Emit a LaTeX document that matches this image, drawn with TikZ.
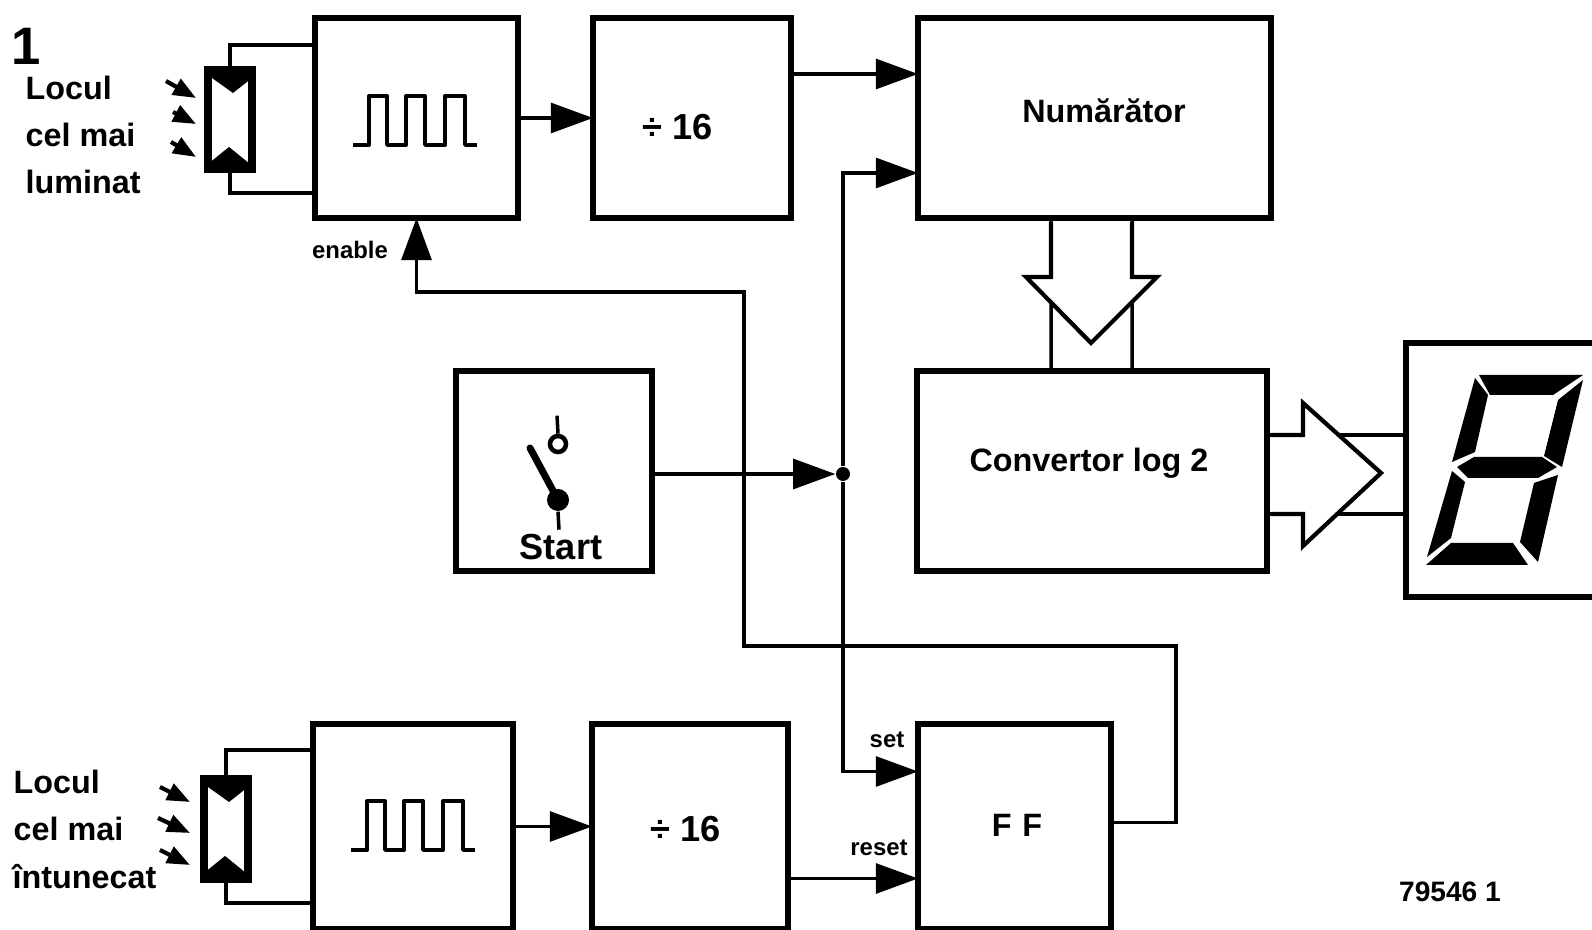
\documentclass[tikz,border=0pt]{standalone}
\usepackage{fontspec}
\setmainfont{Liberation Sans}
\usetikzlibrary{arrows.meta, positioning}
\tikzset{
    block/.style={rectangle, draw, line width=1.7pt, outer sep=0pt, inner sep=0pt},
    wire/.style={draw, line width=1pt},
    sig/.style={wire, -{Triangle[length=12pt, width=8.5pt]}},
    lamp/.style={rectangle, draw, line width=2pt, fill=white, outer sep=0pt, minimum width=4.4mm, minimum height=10mm},
    bus/.style={draw, line width=1.2pt, fill=white, line join=miter},
    ray/.style={line width=1.2pt, -{Triangle[length=6.5pt, width=5pt]}},
    seg/.style={fill=black},
    txt/.style={font=\fontsize{9.2}{12}\selectfont\bfseries, inner sep=0pt},
    bigtxt/.style={font=\fontsize{10.3}{12}\selectfont\bfseries, inner sep=0pt},
    tiny/.style={font=\fontsize{6.8}{8}\selectfont\bfseries, inner sep=0pt},
    pulsetrain/.pic={
        \draw[line width=1.1pt, line join=round] (-62,25) -- (-46,25) -- (-46,-24) -- (-28,-24) -- (-28,25) -- (-9,25)
            -- (-9,-24) -- (10,-24) -- (10,25) -- (30,25) -- (30,-24) -- (50,-24) -- (50,25) -- (62,25);
    },
    lampfill/.pic={
        \fill (-18,-48) -- (22,-48) -- (22,-42) -- (3,-27) -- (-18,-42) -- cycle;
        \fill (-22,48) -- (-22,44) -- (-1,27) -- (20,44) -- (20,48) -- cycle;
    }
}
\begin{document}
\begin{tikzpicture}[x=0.1mm, y=-0.1mm]
    \clip (0,0) rectangle (1592,930);
    % Top row
    \node (osc1) [block, minimum width=20.3mm, minimum height=20mm] at (416.5,118) {};
    \node (div1) [block, minimum width=19.8mm, minimum height=20mm, right=7.5mm of osc1] {};
    \node (num) [block, minimum width=35.3mm, minimum height=20mm, right=12.7mm of div1] {};
    \node (cell1) [lamp] at (230,120) {};
    \pic at (cell1) {lampfill};
    \pic at (415,120) {pulsetrain};

    % Middle row
    \node (conv) [block, minimum width=35mm, minimum height=20mm] at (1092,471) {};
    \node (start) [block, minimum width=19.6mm, minimum height=20mm, left=26.5mm of conv] {};
    \node (disp) [block, anchor=north west, minimum width=22mm, minimum height=25.4mm] at (1406,343) {};
    \node (jct) [circle, fill=black, inner sep=0pt, minimum size=1.4mm] at (843,474) {};

    % Bottom row
    \node (osc2) [block, minimum width=20mm, minimum height=20.5mm] at (413,826.5) {};
    \node (div2) [block, minimum width=19.6mm, minimum height=20.5mm, right=7.9mm of osc2] {};
    \node (ff) [block, minimum width=19.3mm, minimum height=20.5mm, right=13mm of div2] {};
    \node (cell2) [lamp] at (226,829) {};
    \pic at (cell2) {lampfill};
    \pic at (413,825) {pulsetrain};

    % Sensor wires
    \draw[wire] (cell1.north) |- ([yshift=-2.7mm]osc1.north west);
    \draw[wire] (cell1.south) |- ([yshift=2.5mm]osc1.south west);
    \draw[wire] (cell2.north) |- ([yshift=-2.6mm]osc2.north west);
    \draw[wire] (cell2.south) |- ([yshift=2.6mm]osc2.south west);

    % Light rays
    \foreach \ax/\ay/\bx/\by in {166/81/196/98, 173/112/196/124, 171/142/196/157, 160/787/190/802, 158/818/190/833, 160/850/190/865}
        \draw[ray] (\ax,\ay) -- (\bx,\by);

    % Signal paths
    \coordinate (turnr) at (1176,646);
    \coordinate (turnl) at (744,292);
    \draw[sig] (osc1.east) -- (div1.west);
    \draw[sig] ([yshift=4.4mm]div1.east) -- ([yshift=4.4mm]num.west);
    \draw[sig] (jct) |- ([yshift=-5.5mm]num.west);
    \draw[sig] (start.east |- jct) -- (jct);
    \draw[sig] (jct) |- ([yshift=5.5mm]ff.west);
    \draw[sig] (osc2.east) -- (div2.west);
    \draw[sig] ([yshift=-5.2mm]div2.east) -- ([yshift=-5.2mm]ff.west);
    \draw[sig] ([yshift=0.4mm]ff.east) -| (turnr) -| (turnl) -| (osc1.south);

    % Bus arrows
    \draw[wire] ([xshift=-4.35mm]num.south) -- ([xshift=-4.1mm]conv.north);
    \draw[wire] ([xshift=3.75mm]num.south) -- ([xshift=4mm]conv.north);
    \draw[bus] (1051,222) -- (1051,277) -- (1026,277) -- (1091,343) -- (1157,277) -- (1132,277) -- (1132,222);
    \draw[wire] ([yshift=3.6mm]conv.east) -- ([yshift=3.6mm]conv.east -| disp.west);
    \draw[wire] ([yshift=-4.3mm]conv.east) -- ([yshift=-4.3mm]conv.east -| disp.west);
    \draw[bus] (1271,435) -- (1303,435) -- (1303,403) -- (1381,473) -- (1303,546) -- (1303,514) -- (1271,514);

    % Seven segments
    \fill[seg] (1479,375) -- (1583,375) -- (1553,395) -- (1490,395) -- cycle;
    \fill[seg] (1583,380) -- (1562,467) -- (1544,456) -- (1558,400) -- cycle;
    \fill[seg] (1475,378) -- (1488,395) -- (1475,452) -- (1452,462) -- cycle;
    \fill[seg] (1457,467) -- (1474,457) -- (1542,457) -- (1557,467) -- (1538,478) -- (1468,478) -- cycle;
    \fill[seg] (1452,471) -- (1465,482) -- (1451,538) -- (1427,557) -- cycle;
    \fill[seg] (1558,475) -- (1538,562) -- (1520,542) -- (1534,483) -- cycle;
    \fill[seg] (1451,543) -- (1513,543) -- (1528,565) -- (1426,565) -- cycle;

    % Start switch
    \node (contact) [circle, draw, line width=1.3pt, fill=white, inner sep=0pt, minimum size=1.6mm] at (558,444) {};
    \node (pivot) [circle, fill=black, inner sep=0pt, minimum size=2.2mm] at (558,500) {};
    \draw[line width=1pt] (contact.north) -- ++(-1,-18);
    \draw[line width=1pt] (pivot.south) -- ++(1,18);
    \draw[line width=2pt, line cap=round] (530,448) -- (pivot.center);

    % Labels
    \node (fig) [font=\fontsize{15}{15}\selectfont\bfseries, inner sep=0pt] at (26,46) {1};
    \node (lumA) [txt, anchor=west] at (25,88) {Locul};
    \node (lumB) [txt, anchor=west] at (25,135) {cel mai};
    \node (lumC) [txt, anchor=west] at (25,182) {luminat};
    \node (drkA) [txt, anchor=west] at (13,782) {Locul};
    \node (drkB) [txt, anchor=west] at (13,829) {cel mai};
    \node (drkC) [txt, anchor=west] at (12,877) {întunecat};
    \node (pulseA) [bigtxt] at (678,127) {÷ 16};
    \node (pulseB) [bigtxt] at (686,829) {÷ 16};
    \node (numtxt) [txt] at (1104,111) {Numărător};
    \node (convtxt) [txt] at (1089,463) {Convertor log 2};
    \node (fftxt) [txt] at (1017,825) {F\,\,F};
    \node (starttxt) [bigtxt] at (561,547) {Start};
    \node (code) [font=\fontsize{8}{10}\selectfont\bfseries, inner sep=0pt] at (1450,892) {79546 1};
    \node (enable) [tiny] at (350,250) {enable};
    \node (settxt) [tiny] at (887,740) {set};
    \node (resettxt) [tiny] at (879,848) {reset};
\end{tikzpicture}
\end{document}
